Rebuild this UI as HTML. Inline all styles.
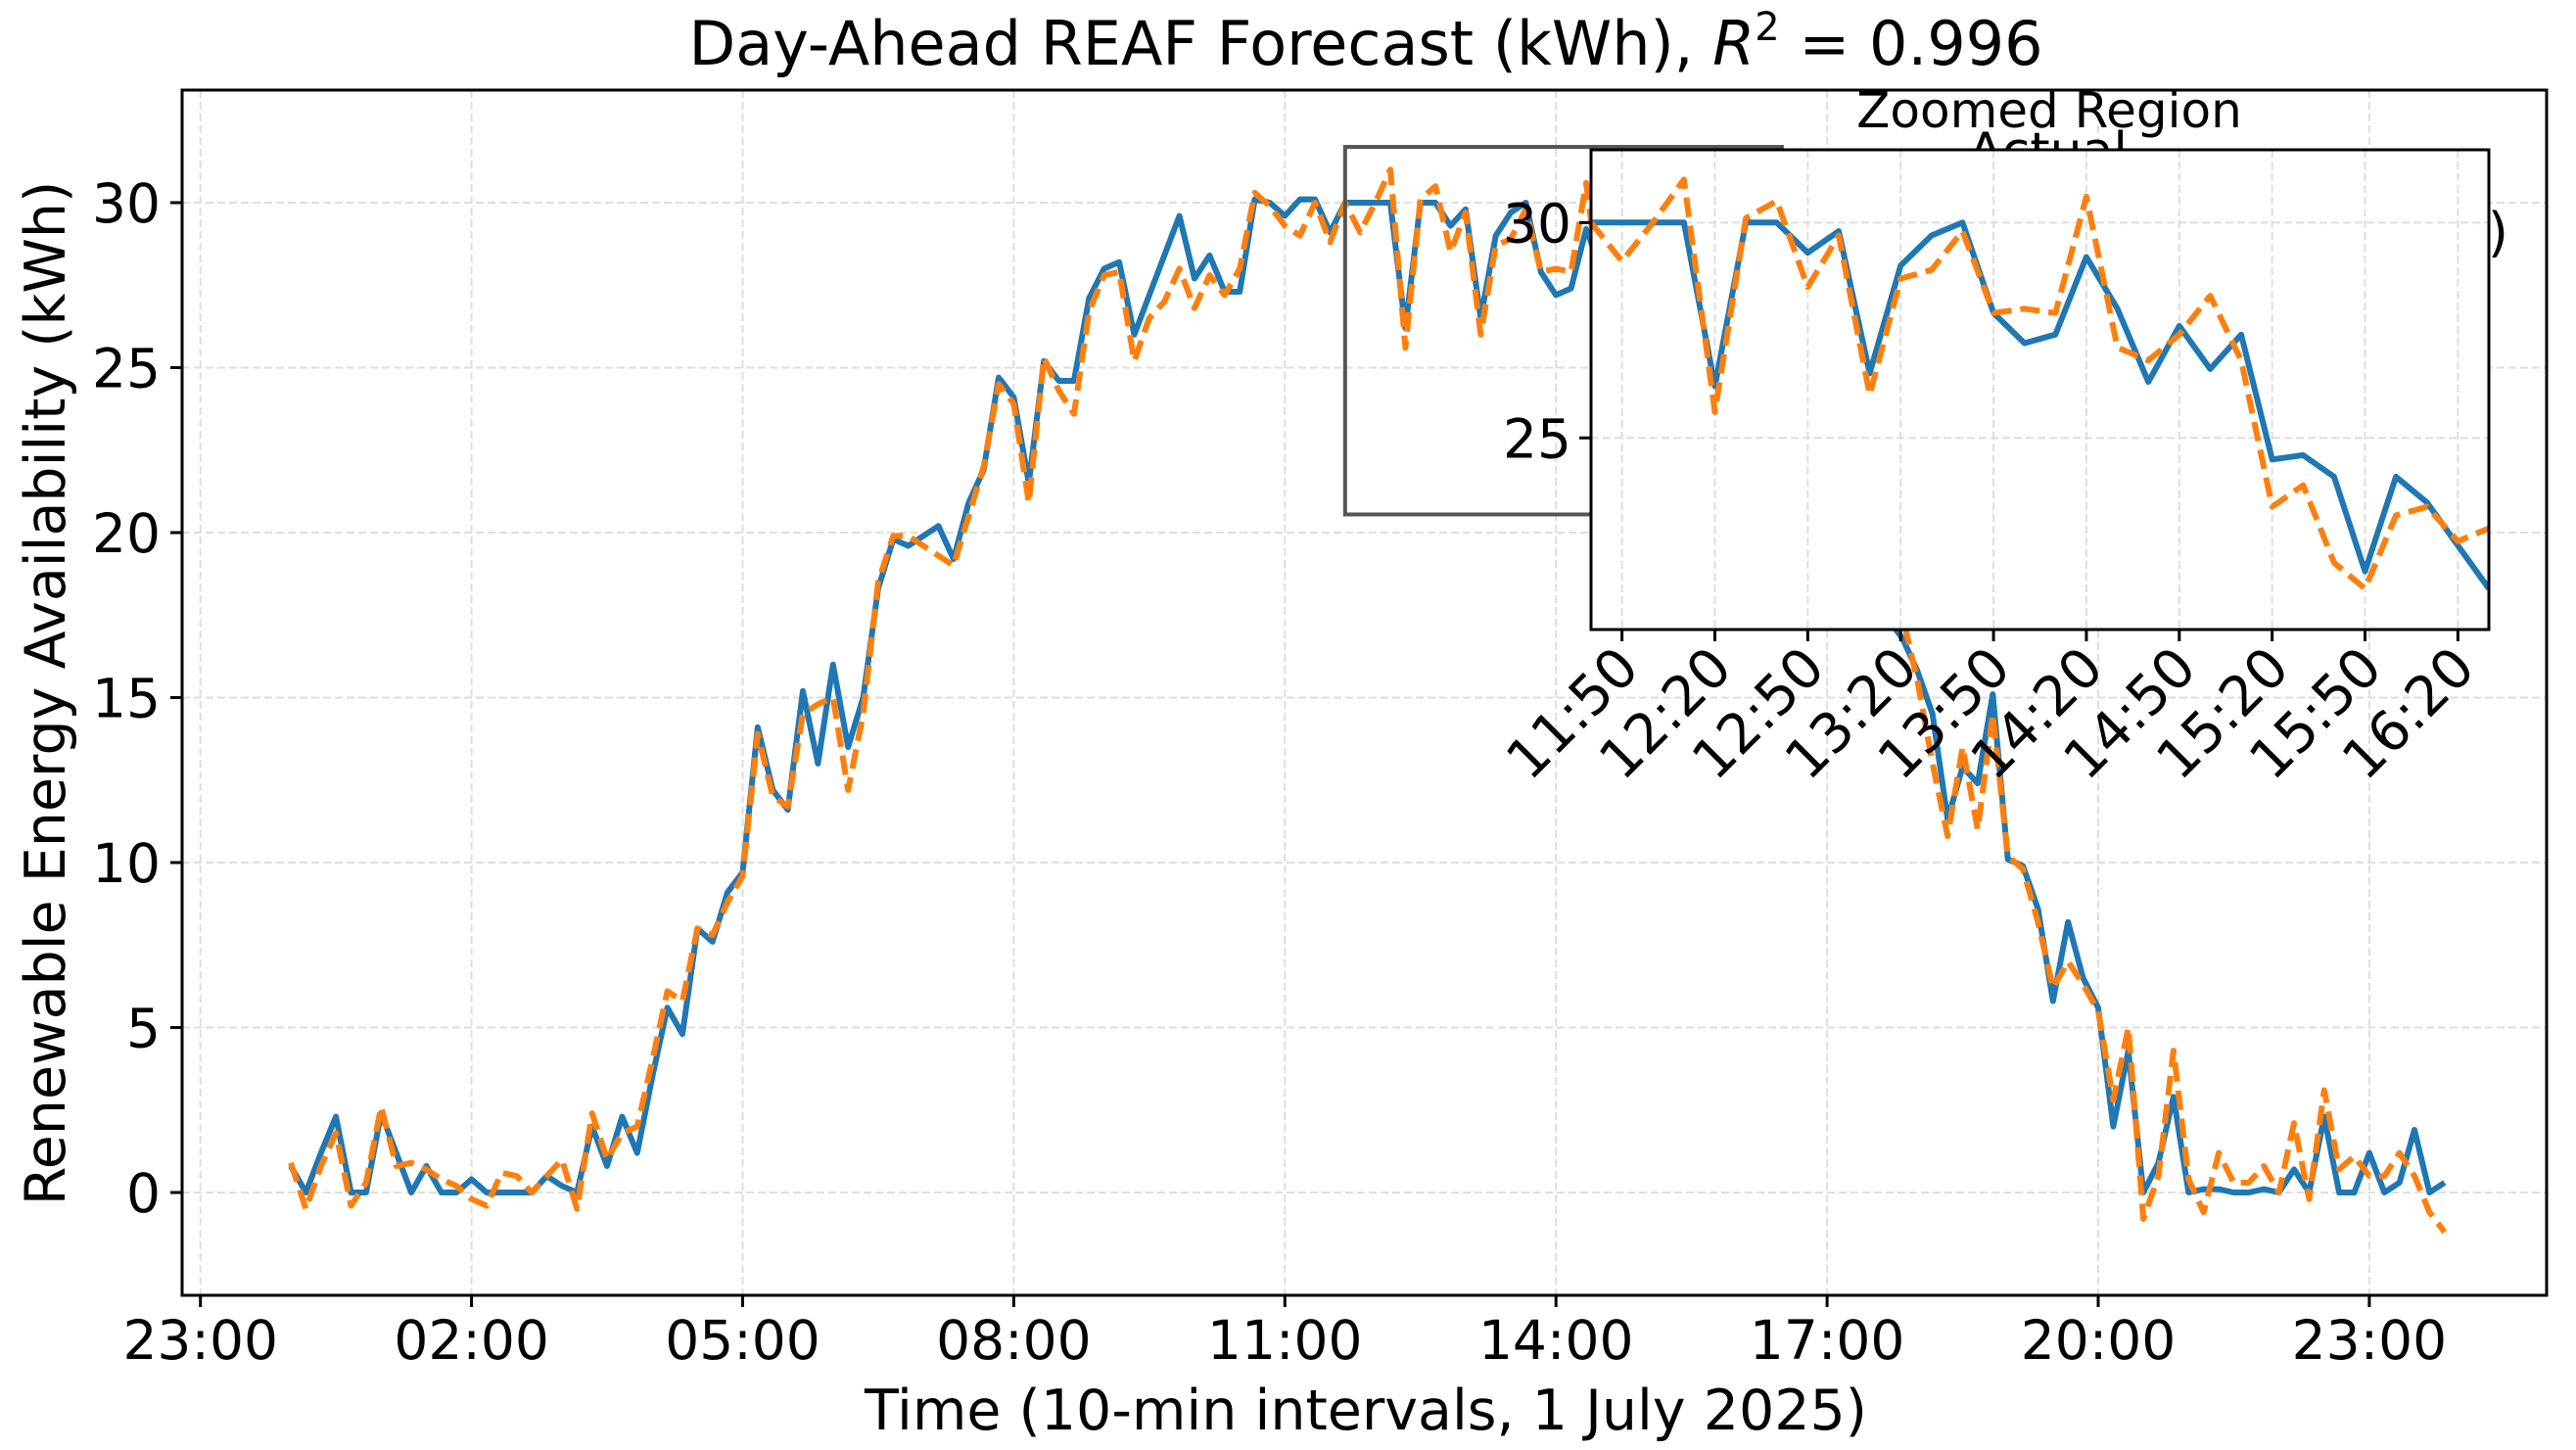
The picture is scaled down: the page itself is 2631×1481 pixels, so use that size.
<!DOCTYPE html>
<html><head><meta charset="utf-8"><style>
html,body{margin:0;padding:0;background:#fff;}
svg{display:block;font-family:"DejaVu Sans","Liberation Sans",sans-serif;}
</style></head><body>
<svg id="chart" width="2631" height="1481" viewBox="0 0 2631 1481" xmlns="http://www.w3.org/2000/svg"></svg>
<script>
const actualValues=[0.8,0,1.2,2.3,0,0,2.4,1.2,0,0.8,0,0,0.4,0,0,0,0,0.5,0.2,0,2.0,0.8,2.3,1.2,
3.5,5.6,4.8,8.0,7.6,9.1,9.7,14.1,12.2,11.6,15.2,13.0,16.0,13.5,15.0,18.3,19.8,19.6,19.9,20.2,19.2,20.9,21.9,24.7,24.1,21.5,25.2,24.6,24.6,27.1,28.0,28.2,26.0,27.2,28.4,29.6,27.7,28.4,27.3,27.3,30.1,30.0,29.6,30.1,30.1,29.1,
30.0,30.0,30.0,30.0,26.2,30.0,30.0,29.3,29.8,26.5,29.0,29.7,30.0,27.9,27.2,27.4,29.2,28.0,26.3,27.6,26.6,27.4,24.5,24.6,24.1,21.9,24.1,23.5,22.5,21.5,
21.0,20.4,20.0,19.3,18.6,18.0,17.4,
16.8,15.8,14.5,11.3,12.9,12.4,15.1,10.1,9.9,8.6,5.8,8.2,6.5,5.6,2.0,4.3,0,0.9,2.9,0,0.1,0.1,0,0,0.1,0,0.7,0,2.3,0,0,1.2,0,0.3,1.9,0,0.3];
const forecastValues=[0.9,-0.5,0.8,1.8,-0.4,0.3,2.6,0.8,0.9,0.7,0.4,0.2,-0.2,-0.4,0.6,0.5,0,0.5,1.0,-0.5,2.4,1.0,1.8,2.0,
4.0,6.1,5.8,8.0,7.8,8.8,9.6,13.9,12.0,11.7,14.5,14.8,15.0,12.2,14.5,18.5,19.9,19.9,19.6,19.3,19.0,20.5,22.0,24.5,23.9,20.9,25.3,24.3,23.6,26.7,27.8,27.9,25.2,26.5,27.0,28.0,26.8,27.8,27.2,28.0,30.3,29.9,29.3,29.0,30.0,28.8,
30.0,29.1,30.0,31.0,25.6,30.1,30.5,28.5,29.7,26.0,28.7,28.9,29.8,27.9,28.0,27.9,30.6,27.1,26.8,27.4,28.3,26.8,23.4,23.9,22.1,21.5,23.2,23.4,22.6,22.9,
21.5,20.8,20.0,19.5,19.0,18.2,17.6,
17.5,15.5,13.0,10.8,13.5,11.0,14.5,10.2,9.8,8.2,6.2,7.0,6.3,5.5,2.8,5.0,-0.8,0.5,4.3,0.4,-0.6,1.2,0.3,0.3,0.8,0,2.1,-0.2,3.1,0.7,1.1,0.5,0.5,1.2,0.5,-0.6,-1.2];
const xTickHours=[-1,2,5,8,11,14,17,20,23];
const xTickLabels=["23:00","02:00","05:00","08:00","11:00","14:00","17:00","20:00","23:00"];
const yTicks=[0,5,10,15,20,25,30];
const insetXTickHours=[11+50/60,12+20/60,12+50/60,13+20/60,13+50/60,14+20/60,14+50/60,15+20/60,15+50/60,16+20/60];
const insetXTickLabels=["11:50","12:20","12:50","13:20","13:50","14:20","14:50","15:20","15:50","16:20"];
const insetYTicks=[25,30];
const zoomRange=[11+40/60,16.5,20.55,31.69];

const NS="http://www.w3.org/2000/svg";
const svg=document.getElementById('chart');
function mk(tag,attrs,parent){const e=document.createElementNS(NS,tag);for(const k in attrs)e.setAttribute(k,attrs[k]);(parent||svg).appendChild(e);return e;}
const AX={l:186,r:2601,t:92,b:1323};
const X=h=>297+92.3*h;
const Y=v=>1218-33.7*v;
const IN={l:1625,r:2542,t:153,b:643};
const IX=h=>IN.l+(h-zoomRange[0])/(zoomRange[1]-zoomRange[0])*(IN.r-IN.l);
const IY=v=>IN.b-(v-zoomRange[2])/(zoomRange[3]-zoomRange[2])*(IN.b-IN.t);

const defs=mk('defs',{});
const cp=mk('clipPath',{id:'mainclip'},defs);mk('rect',{x:AX.l,y:AX.t,width:AX.r-AX.l,height:AX.b-AX.t},cp);
const cp2=mk('clipPath',{id:'inclip'},defs);mk('rect',{x:IN.l,y:IN.t,width:IN.r-IN.l,height:IN.b-IN.t},cp2);

const title=mk('text',{x:1395,y:66,'font-size':62,'text-anchor':'middle',fill:'#000'});


title.innerHTML='Day-Ahead REAF Forecast (kWh), <tspan font-style="italic">R</tspan><tspan font-size="40" dy="-25">2</tspan><tspan dy="25"> = 0.996</tspan>';

const grid=mk('g',{stroke:'#dedede','stroke-width':2,'stroke-dasharray':'8,4'});


xTickHours.forEach(h=>mk('line',{x1:X(h),x2:X(h),y1:AX.t,y2:AX.b},grid));
yTicks.forEach(v=>mk('line',{x1:AX.l,x2:AX.r,y1:Y(v),y2:Y(v)},grid));

function pathFor(arr,fx,fy,start,end){let d='';for(let i=start;i<=end;i++){d+=(i===start?'M':'L')+fx(i/6).toFixed(1)+','+fy(arr[i]).toFixed(1);}return d;}
const mainLines=mk('g',{'clip-path':'url(#mainclip)',fill:'none','stroke-linejoin':'round'});
const la=mk('path',{d:pathFor(actualValues,X,Y,0,actualValues.length-1),stroke:'#1f77b4','stroke-width':6},mainLines);


const lf=mk('path',{d:pathFor(forecastValues,X,Y,0,forecastValues.length-1),stroke:'#ff7f0e','stroke-width':6,'stroke-dasharray':'20,9'},mainLines);



const frame=mk('rect',{x:AX.l,y:AX.t,width:AX.r-AX.l,height:AX.b-AX.t,fill:'none',stroke:'#000','stroke-width':3});


xTickHours.forEach((h,k)=>{
  mk('line',{x1:X(h),x2:X(h),y1:AX.b,y2:AX.b+12,stroke:'#000','stroke-width':3});
  const t=mk('text',{x:X(h),y:AX.b+65,'font-size':55,'text-anchor':'middle'});
  
  
  t.textContent=xTickLabels[k];
});
yTicks.forEach(v=>{
  mk('line',{x1:AX.l-12,x2:AX.l,y1:Y(v),y2:Y(v),stroke:'#000','stroke-width':3});
  const t=mk('text',{x:AX.l-22,y:Y(v)+20,'font-size':55,'text-anchor':'end'});
  
  
  t.textContent=v;
});
const xl=mk('text',{x:1395,y:1460,'font-size':57,'text-anchor':'middle'});


xl.textContent='Time (10-min intervals, 1 July 2025)';
const yl=mk('text',{x:0,y:0,'font-size':57,'text-anchor':'middle',transform:'translate(66,708) rotate(-90)'});


yl.textContent='Renewable Energy Availability (kWh)';

const leg=mk('g',{});


const lt1=mk('text',{x:2010,y:172,'font-size':52},leg);


lt1.textContent='Actual';
const lt2=mk('text',{x:2562,y:256,'font-size':54,'text-anchor':'end'},leg);


lt2.textContent='Forecast (R²=0.996)';

const zr=mk('rect',{x:X(zoomRange[0]),y:Y(zoomRange[3]),width:X(zoomRange[1])-X(zoomRange[0]),height:Y(zoomRange[2])-Y(zoomRange[3]),fill:'none',stroke:'#555','stroke-width':4});


const c1=mk('line',{x1:X(zoomRange[1]),y1:Y(zoomRange[2]),x2:IN.r,y2:IN.b,stroke:'#555','stroke-width':3});



const inset=mk('g',{});


mk('rect',{x:IN.l,y:IN.t,width:IN.r-IN.l,height:IN.b-IN.t,fill:'#fff'},inset);
const ig=mk('g',{stroke:'#dedede','stroke-width':2,'stroke-dasharray':'8,4'},inset);
insetXTickHours.forEach(h=>mk('line',{x1:IX(h),x2:IX(h),y1:IN.t,y2:IN.b},ig));
insetYTicks.forEach(v=>mk('line',{x1:IN.l,x2:IN.r,y1:IY(v),y2:IY(v)},ig));
const i0=70,i1=99;
const il=mk('g',{'clip-path':'url(#inclip)',fill:'none','stroke-linejoin':'round'},inset);
const ia=mk('path',{d:pathFor(actualValues,IX,IY,i0,i1),stroke:'#1f77b4','stroke-width':6},il);


const ifc=mk('path',{d:pathFor(forecastValues,IX,IY,i0,i1),stroke:'#ff7f0e','stroke-width':6,'stroke-dasharray':'20,9'},il);


mk('rect',{x:IN.l,y:IN.t,width:IN.r-IN.l,height:IN.b-IN.t,fill:'none',stroke:'#000','stroke-width':3},inset);
insetXTickHours.forEach((h,k)=>{
  mk('line',{x1:IX(h),x2:IX(h),y1:IN.b,y2:IN.b+12,stroke:'#000','stroke-width':3},inset);
  const t=mk('text',{x:0,y:0,'font-size':56,'text-anchor':'end',transform:`translate(${IX(h)+20},${IN.b+42}) rotate(-45)`},inset);
  
  
  t.textContent=insetXTickLabels[k];
});
insetYTicks.forEach(v=>{
  mk('line',{x1:IN.l-12,x2:IN.l,y1:IY(v),y2:IY(v),stroke:'#000','stroke-width':3},inset);
  const t=mk('text',{x:IN.l-20,y:IY(v)+20,'font-size':55,'text-anchor':'end'},inset);
  
  
  t.textContent=v;
});
const it=mk('text',{x:2093,y:130,'font-size':50,'text-anchor':'middle'},inset);


it.textContent='Zoomed Region';
</script>
</body></html>
